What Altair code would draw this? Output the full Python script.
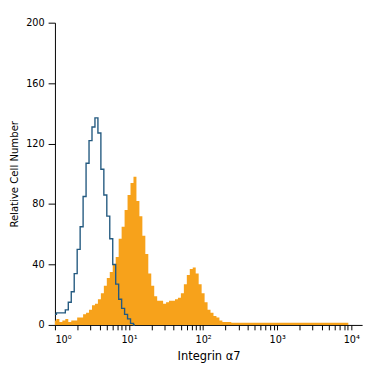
import altair as alt
import pandas as pd

# log10 channel positions step 0.04 decade
step = 0.04
orange_counts = [3, 4, 2, 3, 4, 2, 3, 3, 5, 5,
                 7, 8, 10, 13, 14, 17, 21, 26, 31, 35,
                 40, 45, 57, 65, 76, 86, 94, 98, 82, 72,
                 59, 47, 34, 26, 19, 16, 16, 14, 15, 16,
                 16, 17, 18, 21, 27, 33, 37, 38, 34, 27,
                 21, 15, 10, 8, 6, 5, 3, 2,
                 2, 2, 1.5, 1.5, 1.5, 1.5, 1.5, 1.5, 1.5, 1.5,
                 1.5, 1.5, 1.5, 1.5, 1.5, 1.5, 1.5, 1.5, 1.5, 1.5,
                 1.5, 1.5, 1.5, 1.5, 1.5, 1.5, 1.5, 1.5, 1.5, 1.5,
                 1.5, 1.5, 1.5, 1.5, 1.5, 1.5, 1.5, 1.5, 1.5, 1.5,
                 1.5, 1.5]
blue_counts = [7, 8, 8, 8, 10, 15, 22, 34, 50, 65,
               85, 107, 122, 131, 137, 127, 103, 86, 72, 57,
               40, 27, 17, 11, 7, 4, 1, 0]

orange_df = pd.DataFrame({
    "x": [10 ** (i * step) for i in range(len(orange_counts))],
    "y": orange_counts,
})
blue_df = pd.DataFrame({
    "x": [10 ** (i * step) for i in range(len(blue_counts))],
    "y": blue_counts,
})

tick_vals = [m * 10 ** d for d in range(4) for m in range(1, 10)] + [10000]
label_expr = ("datum.value==1?'10⁰':datum.value==10?'10¹':datum.value==100?'10²':"
              "datum.value==1000?'10³':datum.value==10000?'10⁴':''")

FONT = "DejaVu Sans Condensed, sans-serif"

xscale = alt.Scale(type="log", domain=[1, 14000], nice=False)
yscale = alt.Scale(domain=[0, 200], nice=False)

xaxis = alt.Axis(title="Integrin α7", values=tick_vals, labelExpr=label_expr,
                 grid=False, tickSize=5, labelOverlap=False, labelFlush=True,
                 labelPadding=4,
                 titleFontSize=13, titleFontWeight="normal", titlePadding=5,
                 labelFontSize=11)
yaxis = alt.Axis(title="Relative Cell Number", values=[0, 40, 80, 120, 160, 200],
                 grid=False, tickSize=7, labelPadding=4,
                 titleFontSize=11.5, titleFontWeight="normal", titlePadding=6,
                 labelFontSize=11)

area = alt.Chart(orange_df).mark_area(interpolate="step", color="#f7a21b", opacity=1).encode(
    x=alt.X("x:Q", scale=xscale, axis=xaxis),
    y=alt.Y("y:Q", scale=yscale, axis=yaxis),
)
line = alt.Chart(blue_df).mark_line(interpolate="step", color="#245a80", strokeWidth=1.4).encode(
    x=alt.X("x:Q", scale=xscale),
    y=alt.Y("y:Q", scale=yscale),
)

chart = alt.layer(area, line).properties(
    width=314, height=309,
    autosize=alt.AutoSizeParams(type="none"),
    padding={"left": 48, "top": 11, "right": 5, "bottom": 40},
).configure_view(stroke=None).configure_axis(
    domainColor="black", tickColor="black", labelColor="black", titleColor="black",
    labelFont=FONT, titleFont=FONT,
)

chart.save("out.html", embed_options={"renderer": "svg", "actions": False})
